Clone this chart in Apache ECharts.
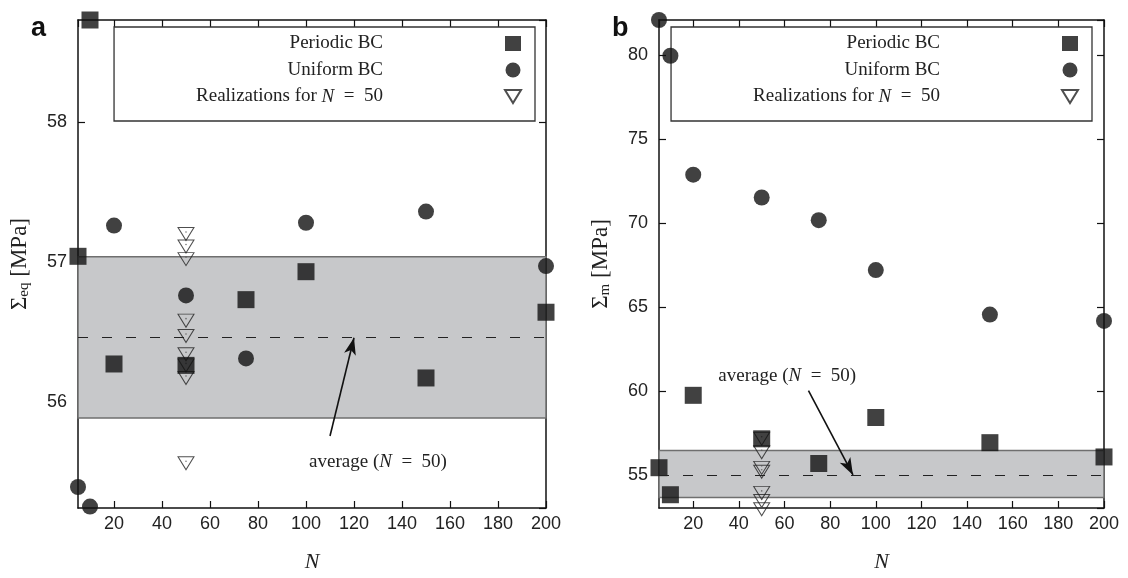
<!DOCTYPE html>
<html>
<head>
<meta charset="utf-8">
<script src="https://cdn.jsdelivr.net/npm/echarts@6/dist/echarts.min.js"></script>
<style>
  html, body { margin: 0; padding: 0; background: #fff; }
  #chart-container { width: 1128px; height: 578px; }
</style>
</head>
<body>
<div id="chart-container"></div>
<script>
// sample sizes N (x positions)
var nValues = [5, 10, 20, 50, 75, 100, 150, 200];
var realizN = 50;

// panel a: Sigma_eq [MPa]
var periodicEq = [57.04, 58.73, 56.27, 56.26, 56.73, 56.93, 56.17, 56.64];
var uniformEq = [55.39, 55.25, 57.26, 56.76, 56.31, 57.28, 57.36, 56.97];
var realizEq = [57.20, 57.11, 57.02, 56.58, 56.47, 56.34, 56.26, 56.17, 55.56];
var bandEq = [55.884, 57.036];
var avgEq = 56.458;

// panel b: Sigma_m [MPa]
var periodicM = [55.43, 53.82, 59.74, 57.15, 55.68, 58.42, 56.92, 56.07];
var uniformM = [82.09, 79.96, 72.88, 71.52, 70.17, 67.20, 64.55, 64.17];
var realizM = [57.15, 56.35, 55.42, 55.19, 53.93, 53.45, 52.96];
var bandM = [53.65, 56.45];
var avgM = 55.0;

// axis ranges
var nRange = [5, 200];
var eqRange = [55.24, 58.73];
var mRange = [53.03, 82.09];

// annotation arrows: [start, tip] and label position (data coords)
var arrowEq = [[110, 55.755], [120, avgEq]];
var labelEq = [130, 55.57];
var arrowM = [[70.5, 60.02], [90, avgM]];
var labelM = [61.2, 60.9];

var INK = '#111';
var SANS = 'Liberation Sans';
var SERIF = 'Liberation Serif';
var triPath = 'path://M0,0L16,0L8,13Z';
var EQ = '\u2002=\u2002';

var dom = document.getElementById('chart-container');
var myChart = echarts.init(dom, null, { renderer: 'canvas' });

function pairs(xs, ys) {
    return ys.map(function (y, i) { return [xs[i], y]; });
}
function column(x, ys) {
    return ys.map(function (y) { return [x, y]; });
}

var richText = {
    t: { fontFamily: SERIF, fontSize: 19, lineHeight: 18, color: '#222' },
    i: { fontFamily: SERIF, fontSize: 19, lineHeight: 18, fontStyle: 'italic', color: '#222' },
    sp: { width: 117, lineHeight: 18 }
};

function legendFormatter(name) {
    if (name === 'Realizations') {
        return '{t|Realizations for }{i|N}{t|' + EQ + '50}{sp|}';
    }
    return '{t|' + name + '}{sp|}';
}

function xAxes(gridIndex) {
    var base = {
        type: 'value', gridIndex: gridIndex, min: nRange[0], max: nRange[1], splitNumber: 10,
        splitLine: { show: false },
        axisLine: { lineStyle: { color: INK, width: 1.5 } },
        axisTick: { inside: true, length: 7, lineStyle: { color: INK, width: 1.2 } }
    };
    return [
        Object.assign({}, base, {
            position: 'bottom',
            axisLabel: {
                showMinLabel: false, margin: 7, color: '#222', fontFamily: SANS, fontSize: 18
            },
            name: 'N', nameLocation: 'middle', nameGap: 43,
            nameTextStyle: { fontFamily: SERIF, fontStyle: 'italic', fontSize: 22, color: '#222' }
        }),
        Object.assign({}, base, { position: 'top', axisLabel: { show: false } })
    ];
}

function yAxes(gridIndex, range, split, nameRich) {
    var base = {
        type: 'value', gridIndex: gridIndex, min: range[0], max: range[1], splitNumber: split,
        splitLine: { show: false },
        axisLine: { lineStyle: { color: INK, width: 1.5 } },
        axisTick: { inside: true, length: 7, lineStyle: { color: INK, width: 1.2 } }
    };
    return [
        Object.assign({}, base, {
            position: 'left',
            axisLabel: {
                showMinLabel: false, showMaxLabel: false, margin: 11,
                color: '#222', fontFamily: SANS, fontSize: 18
            },
            name: nameRich, nameLocation: 'middle', nameGap: 46,
            nameTextStyle: {
                rich: {
                    s: { fontFamily: SERIF, fontSize: 23, color: '#222' },
                    sub: { fontFamily: SERIF, fontSize: 15, color: '#222', padding: [9, 0, 0, 0] }
                }
            }
        }),
        Object.assign({}, base, { position: 'right', axisLabel: { show: false } })
    ];
}

function panelSeries(xi, yi, periodic, uniform, realiz, band, avg, arrow, labelPos) {
    return [
        {
            name: 'Realizations', type: 'scatter', xAxisIndex: xi, yAxisIndex: yi,
            symbol: triPath, symbolSize: [16, 13], clip: false, z: 2,
            itemStyle: { color: 'rgba(0,0,0,0)', borderColor: '#222', borderWidth: 1 },
            data: column(realizN, realiz),
            markArea: {
                silent: true,
                itemStyle: { color: '#c7c8ca', borderColor: '#6f6f6f', borderWidth: 1.5 },
                data: [[{ yAxis: band[0] }, { yAxis: band[1] }]]
            },
            markLine: {
                silent: true, symbol: 'none', animation: false,
                label: { show: false },
                data: [
                    { yAxis: avg, lineStyle: { color: '#222', width: 1.2, type: [10, 14] } },
                    [
                        { coord: arrow[0], symbol: 'none', lineStyle: { color: '#111', width: 1.6, type: 'solid' } },
                        { coord: arrow[1], symbol: 'arrow', symbolSize: [9, 17] }
                    ]
                ]
            },
            markPoint: {
                silent: true, symbol: 'circle', symbolSize: 0,
                label: {
                    show: true, position: 'inside',
                    formatter: '{t|average (}{i|N}{t|' + EQ + '50)}',
                    rich: richText
                },
                data: [{ coord: labelPos }]
            }
        },
        {
            // small centre dot of the hollow triangle markers
            name: 'dots', type: 'scatter', xAxisIndex: xi, yAxisIndex: yi,
            symbol: 'circle', symbolSize: 1.6, symbolOffset: [0, -2], clip: false, z: 2,
            silent: true, itemStyle: { color: '#555' },
            data: column(realizN, realiz)
        },
        {
            name: 'Periodic BC', type: 'scatter', xAxisIndex: xi, yAxisIndex: yi,
            symbol: 'rect', symbolSize: 17, clip: false, z: 3,
            itemStyle: { color: INK },
            data: pairs(nValues, periodic)
        },
        {
            name: 'Uniform BC', type: 'scatter', xAxisIndex: xi, yAxisIndex: yi,
            symbol: 'circle', symbolSize: 16, clip: false, z: 4,
            itemStyle: { color: INK },
            data: pairs(nValues, uniform)
        }
    ];
}

function legendBox(rightPx) {
    return {
        orient: 'vertical', right: rightPx, top: 27, align: 'right',
        padding: [7, 13, 15, 82], itemWidth: 16, itemHeight: 15, itemGap: 7.5,
        borderColor: '#333', borderWidth: 1.3,
        selectedMode: false,
        data: ['Periodic BC', 'Uniform BC', 'Realizations'],
        formatter: legendFormatter,
        textStyle: { rich: richText }
    };
}

var option = {
    animation: false,
    title: [
        { text: 'a', left: 26, top: 10, textStyle: { fontFamily: SANS, fontWeight: 'bold', fontSize: 27, color: '#111' } },
        { text: 'b', left: 607, top: 10, textStyle: { fontFamily: SANS, fontWeight: 'bold', fontSize: 27, color: '#111' } }
    ],
    grid: [
        { left: 78, top: 20, width: 468, height: 500 },
        { left: 659, top: 20, width: 445, height: 500 }
    ],
    legend: [legendBox(1128 - 535), legendBox(1128 - 1092)],
    xAxis: xAxes(0).concat(xAxes(1)),
    yAxis: yAxes(0, eqRange, 4, '{s|Σ}{sub|eq}{s| [MPa]}')
        .concat(yAxes(1, mRange, 6, '{s|Σ}{sub|m}{s| [MPa]}')),
    series: panelSeries(0, 0, periodicEq, uniformEq, realizEq, bandEq, avgEq, arrowEq, labelEq)
        .concat(panelSeries(2, 2, periodicM, uniformM, realizM, bandM, avgM, arrowM, labelM))
};

if (option && typeof option === 'object') {
    myChart.setOption(option);
}

window.addEventListener('resize', myChart.resize);
</script>
</body>
</html>
